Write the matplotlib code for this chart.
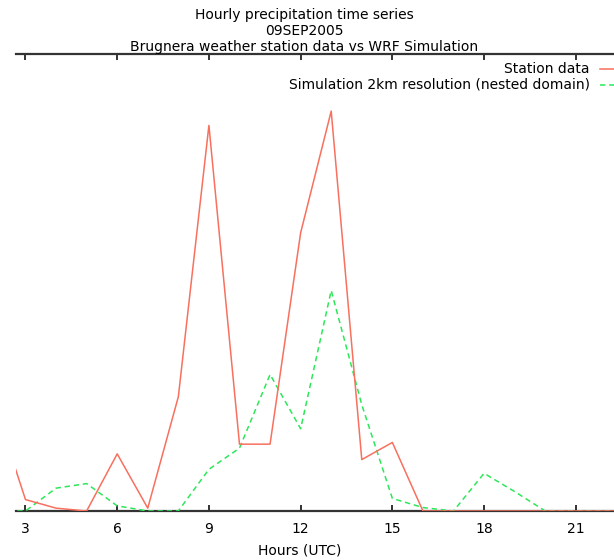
import matplotlib
matplotlib.use("Agg")
import matplotlib.pyplot as plt
from matplotlib.lines import Line2D

plt.rcParams['font.family'] = ['DejaVu Sans']

hours = [2, 3, 4, 5, 6, 7, 8, 9, 10, 11, 12, 13, 14, 15, 16, 17, 18, 19, 20, 21, 22, 23]
station = [1.84, 0.2, 0.05, 0.0, 1.0, 0.05, 2.0, 6.75, 1.17, 1.17, 4.87, 7.0, 0.9, 1.2,
           0.0, 0.0, 0.0, 0.0, 0.0, 0.0, 0.0, 0.0]
simulation = [0.0, 0.0, 0.40, 0.48, 0.09, 0.0, 0.0, 0.73, 1.10, 2.39, 1.44, 3.86, 1.86, 0.22,
              0.06, 0.0, 0.66, 0.34, 0.0, 0.0, 0.0, 0.0]
xticks = [3, 6, 9, 12, 15, 18, 21]

title_lines = ["Hourly precipitation time series", "09SEP2005",
               "Brugnera weather station data vs WRF Simulation"]
label_station = "Station data"
label_sim = "Simulation 2km resolution (nested domain)"
xlabel = "Hours (UTC)"

W, H = 614, 560
fig = plt.figure(figsize=(W / 100, H / 100), dpi=100)
ax = fig.add_axes([16 / W, 49 / H, (W - 16) / W, 457 / H])

red = '#f8705e'
green = '#2ee65a'
ax.plot(hours, station, color=red, lw=1.1, zorder=3)
ax.plot(hours, simulation, color=green, lw=1.1, ls=(0, (3.5, 2.5)), zorder=2)

ax.set_xlim(2.69, 22.25)
ax.set_ylim(0, 8)
ax.set_xticks(xticks)
ax.set_xticklabels([str(t) for t in xticks])
ax.set_yticks([])
for s in ['left', 'right']:
    ax.spines[s].set_visible(False)
for s in ['top', 'bottom']:
    ax.spines[s].set_color('#333333')
    ax.spines[s].set_linewidth(1.6)
    ax.spines[s].set_zorder(1)
ax.tick_params(axis='x', direction='in', length=4.5, width=1.4, color='#333333',
               top=True, labeltop=False, labelsize=10, pad=8)

cx = 304 / W
for i, t in enumerate(title_lines):
    fig.text(cx, 1 - (15 + 15.8 * i) / H, t, ha='center', va='center', fontsize=10)

fig.text(300 / W, 1 - 551 / H, xlabel, ha='center', va='center', fontsize=10)

# legend (gnuplot style: text right-aligned, sample to the right)
for i, (lab, col, ls) in enumerate([(label_station, red, '-'), (label_sim, green, (0, (3.5, 2.5)))]):
    y = 1 - (69 + 16 * i) / H
    fig.text(590 / W, y, lab, ha='right', va='center', fontsize=10)
    fig.add_artist(Line2D([600 / W, 640 / W], [y, y], color=col, lw=1.1, ls=ls,
                          transform=fig.transFigure))

fig.savefig("out.png", dpi=100)
